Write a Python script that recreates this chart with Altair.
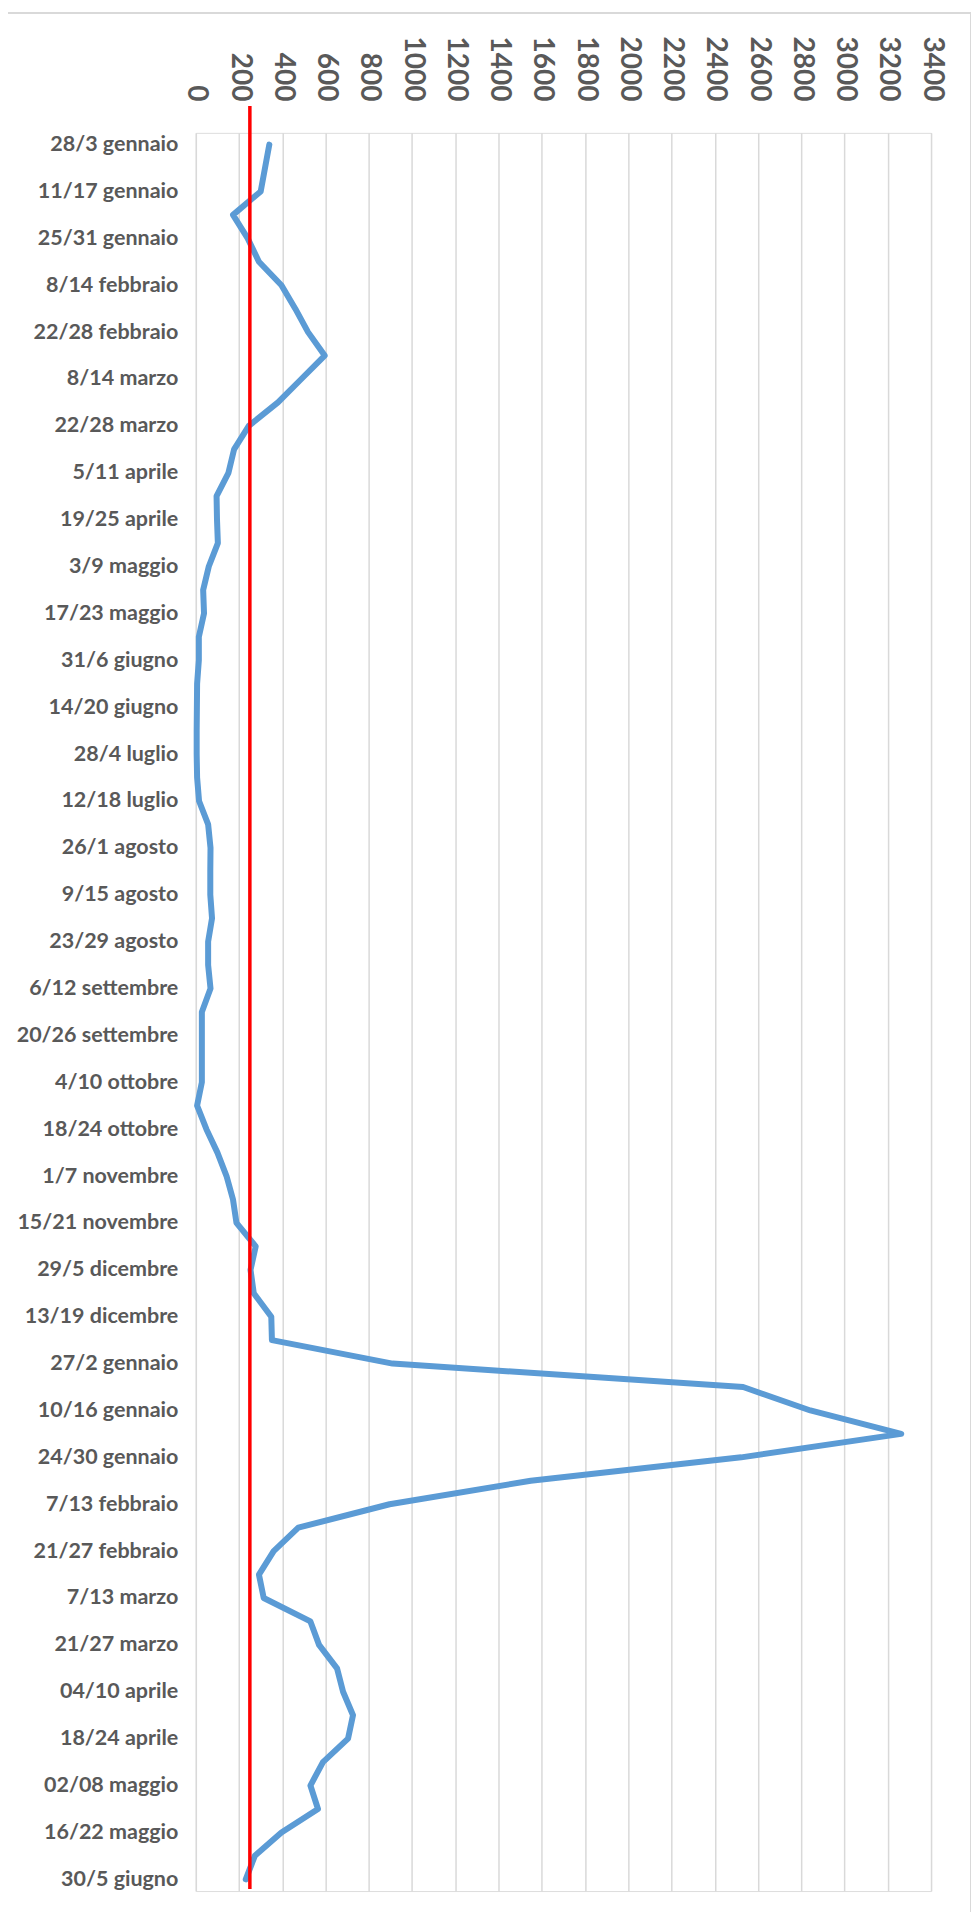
import altair as alt
import pandas as pd

weeks = [
    "28/3 gennaio", "4/10 gennaio", "11/17 gennaio", "18/24 gennaio", "25/31 gennaio",
    "1/7 febbraio", "8/14 febbraio", "15/21 febbraio", "22/28 febbraio", "1/7 marzo",
    "8/14 marzo", "15/21 marzo", "22/28 marzo", "29/4 aprile", "5/11 aprile",
    "12/18 aprile", "19/25 aprile", "26/2 maggio", "3/9 maggio", "10/16 maggio",
    "17/23 maggio", "24/30 maggio", "31/6 giugno ", "7/13 giugno", "14/20 giugno",
    "21/27 giugno", "28/4 luglio", "5/11 luglio", "12/18 luglio", "19/25 luglio",
    "26/1 agosto", "2/8 agosto", "9/15 agosto", "16/22 agosto", "23/29 agosto",
    "30/5 settembre", "6/12 settembre", "13/19 settembre", "20/26 settembre", "27/3 ottobre",
    "4/10 ottobre", "11/17 ottobre", "18/24 ottobre", "25/31 ottobre", "1/7 novembre",
    "8/14 novembre", "15/21 novembre", "22/28 novembre", "29/5 dicembre", "6/12 dicembre",
    "13/19 dicembre", "20/26 dicembre", "27/2 gennaio", "3/9 gennaio", "10/16 gennaio",
    "17/23 gennaio", "24/30 gennaio", "31/6 febbraio", "7/13 febbraio", "14/20 febbraio",
    "21/27 febbraio", "28/6 marzo", "7/13 marzo", "14/20 marzo", "21/27 marzo",
    "28/3 aprile", "04/10 aprile", "11/17 aprile", "18/24 aprile", "25/1 maggio",
    "02/08 maggio", "09/15 maggio", "16/22 maggio", "23/29 maggio", "30/5 giugno",
]

values = [
    340, 320, 300, 172, 240, 292, 396, 460, 519, 596,
    488, 380, 245, 177, 151, 96, 98, 102, 60, 34,
    38, 14, 14, 6, 5, 4, 4, 6, 15, 57,
    68, 67, 67, 75, 57, 57, 68, 28, 28, 28,
    28, 6, 49, 100, 142, 172, 188, 277, 253, 268,
    349, 352, 910, 2531, 2842, 3262, 2522, 1549, 896, 474,
    360, 292, 314, 530, 570, 653, 681, 727, 704, 588,
    530, 565, 396, 273, 231,
]

shown_labels = weeks[::2]
x_ticks = list(range(0, 3401, 200))
threshold = [250]

W, H = 736, 1760

df = pd.DataFrame({"settimana": weeks, "valore": values})
thr = pd.DataFrame({"soglia": threshold})
one = pd.DataFrame({"k": [0]})

x_scale = alt.Scale(domain=[0, 3400], nice=False, zero=True)

line = alt.Chart(df).mark_line(
    color="#5B9BD5", strokeWidth=6, strokeJoin="round", strokeCap="round"
).encode(
    x=alt.X(
        "valore:Q",
        scale=x_scale,
        axis=alt.Axis(
            orient="top", values=x_ticks, title=None, labelAngle=90, format="d",
            labelAlign="right", labelBaseline="middle", labelPadding=32,
            labelFont="Lato", labelFontWeight="bold", labelFontSize=28,
            labelColor="#595959", domain=False, ticks=False, tickSize=0,
            grid=True, gridColor="#d9d9d9", gridWidth=1.5, labelOverlap=False,
        ),
    ),
    y=alt.Y(
        "settimana:N",
        sort=weeks,
        scale=alt.Scale(type="point", padding=0.5),
        axis=alt.Axis(
            values=shown_labels, title=None, labelPadding=18,
            labelFont="Lato", labelFontWeight="bold", labelFontSize=21.5,
            labelColor="#595959", domain=False, ticks=False, tickSize=0,
            grid=False, labelOverlap=False,
        ),
    ),
    order=alt.Order("idx:Q"),
).transform_window(idx="row_number()")

red = alt.Chart(thr).mark_rule(color="#FF0000", strokeWidth=3.5).encode(
    x=alt.X("soglia:Q", scale=x_scale),
    y=alt.value(-27),
    y2=alt.value(H - 2),
)

frame_top = alt.Chart(one).mark_rule(color="#d9d9d9", strokeWidth=2).encode(
    x=alt.value(-200), x2=alt.value(776), y=alt.value(-120)
)
frame_right = alt.Chart(one).mark_rule(color="#d9d9d9", strokeWidth=2).encode(
    x=alt.value(776), y=alt.value(-120), y2=alt.value(H + 40)
)

chart = alt.layer(line, red, frame_top, frame_right).properties(
    width=W, height=H,
    padding={"left": 188, "top": 124, "right": 40, "bottom": 20},
    autosize=alt.AutoSizeParams(type="none"),
).configure_view(stroke=None).configure(background="white")

chart.save("out.html", embed_options={"renderer": "svg", "actions": False})
